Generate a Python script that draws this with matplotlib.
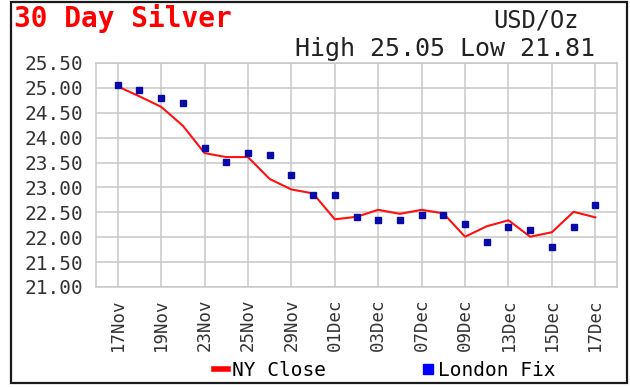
import matplotlib.pyplot as plt
from matplotlib.lines import Line2D
from matplotlib.patches import Rectangle

dates = ['17Nov', '18Nov', '19Nov', '22Nov', '23Nov', '24Nov', '25Nov', '26Nov',
         '29Nov', '30Nov', '01Dec', '02Dec', '03Dec', '06Dec', '07Dec', '08Dec',
         '09Dec', '10Dec', '13Dec', '14Dec', '15Dec', '16Dec', '17Dec']
ny_close = [25.03, 24.83, 24.62, 24.24, 23.69, 23.61, 23.61, 23.17, 22.96, 22.88,
            22.36, 22.41, 22.55, 22.47, 22.55, 22.48, 22.01, 22.22, 22.34, 22.01,
            22.10, 22.51, 22.40]
london_fix = [25.05, 24.95, 24.80, 24.70, 23.79, 23.51, 23.70, 23.65, 23.25, 22.85,
              22.85, 22.40, 22.34, 22.34, 22.45, 22.45, 22.26, 21.90, 22.20, 22.14,
              21.81, 22.20, 22.65]
y_ticks = [21.0, 21.5, 22.0, 22.5, 23.0, 23.5, 24.0, 24.5, 25.0, 25.5]

plt.rcParams['font.family'] = ['DejaVu Sans Mono']

W, H = 630, 387
fig = plt.figure(figsize=(W / 100, H / 100), dpi=100)
ax = fig.add_axes([96 / W, 1 - 287 / H, 521 / W, 224 / H])

grid_c = '#c8c8c8'
x = list(range(len(dates)))
ax.plot(x, ny_close, color='#ff1010', lw=1.5, zorder=3)
ax.plot(x, london_fix, ls='', marker='s', ms=5, color='#0a0aa8', zorder=4)

ax.set_xlim(-1, len(dates))
ax.set_ylim(21.0, 25.5)
ax.set_xticks(x[::2])
ax.set_xticklabels(dates[::2], rotation=90, fontsize=12.5, color='#333333')
ax.set_yticks(y_ticks)
ax.set_yticklabels(['%.2f' % v for v in y_ticks], fontsize=14, color='#333333')
ax.tick_params(axis='both', length=0)
ax.tick_params(axis='x', pad=8)
ax.tick_params(axis='y', pad=9)
ax.grid(True, color=grid_c, lw=1.1)
ax.set_axisbelow(True)
for s in ax.spines.values():
    s.set_color(grid_c)
    s.set_linewidth(1.1)

# titles
fig.text(14 / W, 1 - 27 / H, '30 Day Silver', color='#ff0000', fontsize=20,
         fontweight='bold', ha='left', va='baseline')
fig.text(579 / W, 1 - 27 / H, 'USD/Oz', color='#222222', fontsize=17,
         ha='right', va='baseline')
hi = max(max(ny_close), max(london_fix))
lo = min(min(ny_close), min(london_fix))
fig.text(595 / W, 1 - 56 / H, 'High %.2f Low %.2f' % (hi, lo), color='#222222',
         fontsize=18, ha='right', va='baseline')

# legend
handles = [Line2D([], [], color='#ff0000', lw=4),
           Line2D([], [], ls='', marker='s', ms=7.5, color='#0000ff')]
fig.legend(handles, ['NY Close', 'London Fix'], loc='center left',
           bbox_to_anchor=(214 / W, 17 / H), ncol=2, frameon=False,
           fontsize=14, handlelength=0.7, handletextpad=0.2,
           columnspacing=4.9, borderpad=0, borderaxespad=0)

# outer frame
fig.patches.append(Rectangle((11 / W, 4 / H), 616 / W, 381 / H,
                             transform=fig.transFigure, fill=False,
                             edgecolor='#1a1a1a', lw=1.6))

fig.savefig('out.png', dpi=100)
